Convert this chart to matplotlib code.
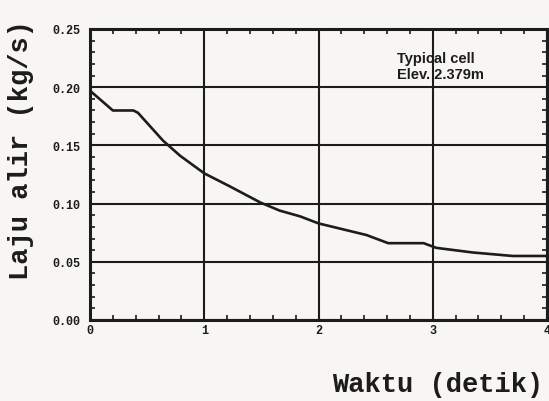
import matplotlib
matplotlib.use('Agg')
import matplotlib.pyplot as plt
from matplotlib.ticker import MultipleLocator, FormatStrFormatter

# flow rate vs time
waktu = [0.0, 0.20, 0.38, 0.42, 0.64, 0.79, 1.00, 1.22, 1.49, 1.66,
         1.84, 2.00, 2.21, 2.42, 2.61, 2.92, 3.03, 3.35, 3.70, 4.00]
laju = [0.197, 0.180, 0.180, 0.178, 0.154, 0.141, 0.126, 0.115, 0.101, 0.094,
        0.089, 0.083, 0.078, 0.073, 0.066, 0.066, 0.062, 0.058, 0.055, 0.055]

x_ticks = [0, 1, 2, 3, 4]
y_ticks = [0.00, 0.05, 0.10, 0.15, 0.20, 0.25]
note = 'Typical cell\nElev. 2.379m'

ink = '#1c1c1c'
paper = '#f7f6f2'
mono = ['Liberation Mono', 'DejaVu Sans Mono']

fig = plt.figure(figsize=(5.49, 4.02), dpi=100, facecolor=paper)
ax = fig.add_axes([90/549, 1 - 321/402, 457/549, 291/402], facecolor=paper)

ax.plot(waktu, laju, color=ink, lw=1.9, zorder=3)

ax.set_xlim(0, 4)
ax.set_ylim(0, 0.25)
ax.set_xticks(x_ticks)
ax.set_yticks(y_ticks)
ax.yaxis.set_major_formatter(FormatStrFormatter('%.2f'))
ax.xaxis.set_minor_locator(MultipleLocator(0.2))
ax.yaxis.set_minor_locator(MultipleLocator(0.01))
ax.grid(True, which='major', color=ink, lw=1.5)

ax.tick_params(which='major', length=0, pad=3, labelsize=8.5, colors=ink)
ax.tick_params(axis='y', which='major', pad=7)
ax.tick_params(which='minor', direction='in', length=3.5, width=1.2,
               top=True, right=True, color=ink)
for lab in ax.get_xticklabels() + ax.get_yticklabels():
    lab.set_family(mono)
    lab.set_fontweight('bold')

for sp in ax.spines.values():
    sp.set_linewidth(2.2)
    sp.set_color(ink)

fig.text(397/549, 1 - 67/402, note, fontsize=10.5, fontweight='bold',
         family=['Liberation Sans', 'DejaVu Sans'], color=ink,
         va='center', ha='left', linespacing=1.15)

fig.text(21/549, 1 - 150/402, 'Laju alir (kg/s)', rotation=90,
         ha='center', va='center', fontsize=19.5, fontweight='bold',
         family=mono, color=ink)
fig.text(543/549, 1 - 385/402, 'Waktu (detik)', ha='right', va='center',
         fontsize=19.5, fontweight='bold', family=mono, color=ink)

fig.savefig('out.png', dpi=100, facecolor=paper)
